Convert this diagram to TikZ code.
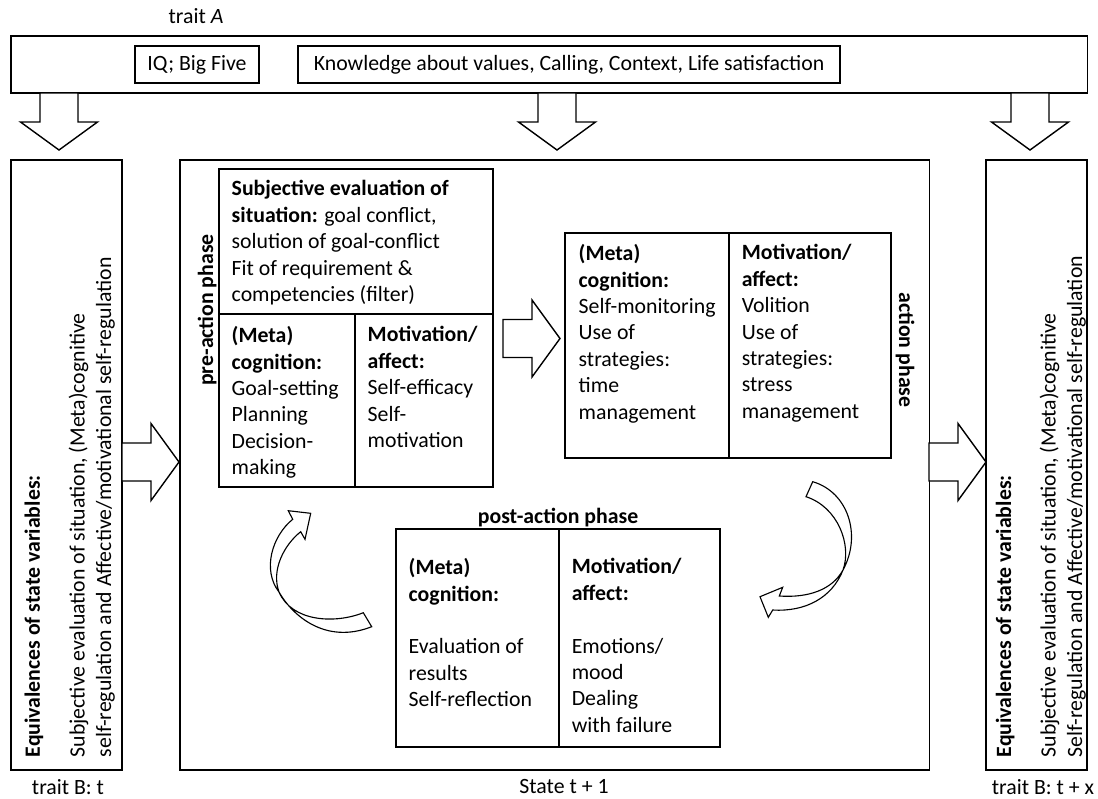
\documentclass[tikz,border=0pt]{standalone}
\usepackage{fontspec}
\setmainfont{Carlito}
\usetikzlibrary{positioning}

\begin{document}
\begin{tikzpicture}[%
    x = 0.025cm,
    y = -0.025cm,
    font = \fontsize{15.5pt}{18.8pt}\selectfont,
    line width = 1pt,
    box/.style = {%
      draw,
      outer sep = 0pt,
      inner sep = 0pt,
      anchor = north west },
    txt/.style = {%
      align = left,
      inner sep = 0pt,
      anchor = north west },
    tag/.style = {%
      inner sep = 0pt,
      anchor = base },
    fat/.style = {%
      draw,
      fill = white,
      line join = miter },
    fatarrow/.pic = {%
      \draw[fat] (0,-19) -- (29,-19) -- (29,-38.5) -- (57,0)
        -- (29,38.5) -- (29,19) -- (0,19) -- cycle; },
    curl/.style = {%
      draw,
      line width = 0.8pt,
      fill = white }
  ]

  \path[use as bounding box] (0,0) rectangle (1098,798);

  % traits
  \node[tag] (traitA) at (196,23) {trait \textit{A}};
  \node[box, minimum width=26.9cm, minimum height=1.425cm] (traits) at (11,36) {};
  \node[box, minimum width=3.1cm, minimum height=0.925cm] (iq) at (135,46) {IQ; Big Five};
  \node[box, minimum width=13.55cm, minimum height=0.925cm] (knowledge) at (iq.north east)
    [xshift=0.975cm] {Knowledge about values, Calling, Context, Life satisfaction};

  % states
  \node[box, minimum width=2.775cm, minimum height=15.25cm] (stateT) at (11,160) {};
  \node[box, minimum width=18.725cm, minimum height=15.25cm] (stateT1) at (180,160) {};
  \node[box, minimum width=2.525cm, minimum height=15.25cm] (stateTX) at (986,160) {};

  \node[txt, rotate=90] (eqT) at (24,758)
    {\textbf{Equivalences of state variables:}\\[13pt]
     Subjective evaluation of situation, (Meta)cognitive\\
     self-regulation and Affective/motivational self-regulation};
  \node[txt, rotate=90] (eqTX) at (995,758)
    {\textbf{Equivalences of state variables:}\\[13pt]
     Subjective evaluation of situation, (Meta)cognitive\\
     Self-regulation and Affective/motivational self-regulation};

  \node[tag] (lblT) at (68,794) {trait B: t};
  \node[tag] (lblT1) at (564,793) {State t + 1};
  \node[tag] (lblTX) at (1043,794) {trait B: t + x};

  % pre-action phase
  \node[box, minimum width=6.85cm, minimum height=3.625cm] (preEval) at (219,169) {};
  \node[box, minimum width=3.4cm, minimum height=4.325cm] (preCog) at (preEval.south west) {};
  \node[box, minimum width=3.45cm, minimum height=4.325cm] (preMot) at (preCog.north east) {};

  \node[txt, below right=0.2675cm and 0.3cm of preEval.north west] (preEvalTxt)
    {\textbf{Subjective evaluation of}\\
     \textbf{situation:} goal conflict,\\
     solution of goal-conflict\\
     Fit of requirement \&\\
     competencies (filter)};
  \node[txt, below right=0.2925cm and 0.3cm of preCog.north west] (preCogTxt)
    {\textbf{(Meta)}\\ \textbf{cognition:}\\ Goal-setting\\ Planning\\ Decision-\\ making};
  \node[txt, below right=0.2925cm and 0.3cm of preMot.north west] (preMotTxt)
    {\textbf{Motivation/}\\ \textbf{affect:}\\ Self-efficacy\\ Self-\\ motivation};
  \node[tag, rotate=90] (preLbl) at (213,310) {\textbf{pre-action phase}};

  % action phase
  \node[box, minimum width=4.1cm, minimum height=5.625cm] (actCog) at (565,233) {};
  \node[box, minimum width=4.05cm, minimum height=5.625cm] (actMot) at (actCog.north east) {};

  \node[txt, below right=0.2675cm and 0.325cm of actCog.north west] (actCogTxt)
    {\textbf{(Meta)}\\ \textbf{cognition:}\\ Self-monitoring\\ Use of\\ strategies:\\ time\\ management};
  \node[txt, below right=0.2675cm and 0.3cm of actMot.north west] (actMotTxt)
    {\textbf{Motivation/}\\ \textbf{affect:}\\ Volition\\ Use of\\ strategies:\\ stress\\ management};
  \node[tag, rotate=-90] (actLbl) at (899,350) {\textbf{action phase}};

  % post-action phase
  \node[box, minimum width=4.075cm, minimum height=5.45cm] (postCog) at (396,529) {};
  \node[box, minimum width=4.025cm, minimum height=5.45cm] (postMot) at (postCog.north east) {};

  \node[txt, below right=0.7175cm and 0.3cm of postCog.north west] (postCogTxt)
    {\textbf{(Meta)}\\ \textbf{cognition:}\\[18.8pt] Evaluation of\\ results\\ Self-reflection};
  \node[txt, below right=0.7175cm and 0.3cm of postMot.north west] (postMotTxt)
    {\textbf{Motivation/}\\ \textbf{affect:}\\[18.8pt] Emotions/\\ mood\\ Dealing\\ with failure};
  \node[tag] (postLbl) at (558,523) {\textbf{post-action phase}};

  % block arrows
  \pic[rotate=-90] at (59,93) {fatarrow};
  \pic[rotate=-90] at (557,93) {fatarrow};
  \pic[rotate=-90] at (1030,93) {fatarrow};
  \pic at (122,462) {fatarrow};
  \pic at (503,338.5) {fatarrow};
  \pic at (929,462) {fatarrow};

  % cycle arrows
  \draw[curl] (371.7,626.7) -- (363.3,612.7)
    .. controls (335,624) and (292,622) .. (279,592)
    .. controls (271,570) and (284,545) .. (300.7,531.7)
    -- (305,539.3) -- (310.7,513.3) -- (288.3,510.7) -- (292.7,519.3)
    .. controls (272,536) and (262,570) .. (279,592)
    .. controls (292,615) and (325,645) .. (371.7,626.7) -- cycle;

  \draw[curl] (812.7,481.7)
    .. controls (848,492) and (862,535) .. (843,570)
    .. controls (832,598) and (805,612) .. (772.7,610)
    -- (768.3,617.3) -- (760,596.7) -- (782.7,587.3) -- (779.3,596)
    .. controls (808,598) and (832,590) .. (843,570)
    .. controls (852,545) and (838,507) .. (806,496.7) -- cycle;

\end{tikzpicture}
\end{document}
